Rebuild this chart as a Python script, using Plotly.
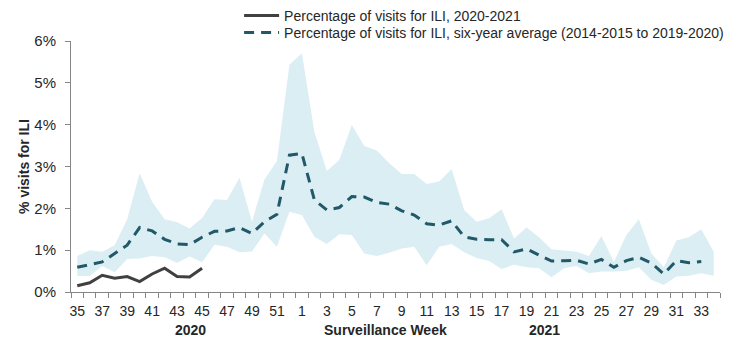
import plotly.graph_objects as go

weeks = list(range(35, 53)) + list(range(1, 35))

current = [0.15, 0.22, 0.40, 0.33, 0.37, 0.25, 0.43, 0.57, 0.37, 0.36, 0.57] + [None] * 41

average = [0.59, 0.66, 0.72, 0.92, 1.12, 1.54, 1.46, 1.26, 1.15, 1.13, 1.31, 1.45, 1.46, 1.54, 1.40, 1.68, 1.86, 3.27,
           3.31, 2.20, 1.96, 2.02, 2.28, 2.27, 2.14, 2.10, 1.94, 1.84, 1.63, 1.60, 1.70, 1.32, 1.26, 1.25, 1.25, 0.96,
           1.03, 0.88, 0.74, 0.75, 0.76, 0.67, 0.78, 0.59, 0.75, 0.83, 0.69, 0.43, 0.75, 0.70, 0.73, None]

upper = [0.86, 1.00, 0.96, 1.12, 1.74, 2.84, 2.16, 1.74, 1.67, 1.52, 1.77, 2.22, 2.20, 2.73, 1.68, 2.69, 3.13, 5.43,
         5.71, 3.83, 2.89, 3.16, 3.99, 3.49, 3.38, 3.08, 2.82, 2.82, 2.58, 2.64, 2.94, 1.96, 1.68, 1.76, 1.98, 1.28,
         1.54, 1.31, 1.02, 0.99, 0.96, 0.86, 1.34, 0.72, 1.36, 1.74, 0.92, 0.59, 1.23, 1.31, 1.50, 0.96]

lower = [0.38, 0.38, 0.62, 0.47, 0.79, 0.80, 0.86, 0.83, 0.70, 0.85, 0.71, 1.13, 1.08, 0.95, 0.97, 1.40, 1.08, 1.92,
         1.84, 1.32, 1.15, 1.38, 1.36, 0.92, 0.86, 0.94, 1.04, 1.08, 0.64, 1.08, 1.15, 0.95, 0.81, 0.74, 0.55, 0.65,
         0.59, 0.57, 0.35, 0.57, 0.62, 0.45, 0.49, 0.49, 0.51, 0.59, 0.29, 0.17, 0.37, 0.39, 0.45, 0.39]

yticks = [0, 1, 2, 3, 4, 5, 6]

idx = list(range(len(weeks)))
FONT = "Liberation Sans, Arial, sans-serif"
TXT = "#262626"
AX = "#868686"

fig = go.Figure()
fig.add_trace(go.Scatter(x=idx, y=lower, mode="lines", line=dict(width=0, color="#DBEEF4"),
                         showlegend=False, hoverinfo="skip"))
fig.add_trace(go.Scatter(x=idx, y=upper, mode="lines", line=dict(width=0, color="#DBEEF4"),
                         fill="tonexty", fillcolor="#DBEEF4", showlegend=False, hoverinfo="skip"))
fig.add_trace(go.Scatter(x=idx, y=current, mode="lines", name="Percentage of visits for ILI, 2020-2021",
                         line=dict(color="#404040", width=3), legend="legend"))
fig.add_trace(go.Scatter(x=idx, y=average, mode="lines",
                         name="Percentage of visits for ILI, six-year average (2014-2015 to 2019-2020)",
                         line=dict(color="#215968", width=3, dash="10px,7px"), legend="legend2"))

leg_common = dict(xanchor="left", yanchor="top", bgcolor="rgba(0,0,0,0)",
                  font=dict(size=14, color=TXT, family=FONT), itemwidth=35)

fig.update_layout(
    width=739, height=342,
    margin=dict(l=71, r=19, t=41, b=50, autoexpand=False),
    plot_bgcolor="white", paper_bgcolor="white",
    font=dict(family=FONT, color=TXT, size=13),
    legend=dict(x=0.259, y=1.164, **leg_common),
    legend2=dict(x=0.259, y=1.096, **leg_common),
    xaxis=dict(
        range=[-0.5, len(weeks) - 0.5],
        tickmode="array", tickvals=idx[::2], ticktext=[str(w) for w in weeks[::2]],
        ticks="", showline=True, linecolor=AX, linewidth=1, showgrid=False, zeroline=False,
        tickfont=dict(size=14, color=TXT), ticklabelstandoff=6,
        minor=dict(tickmode="linear", tick0=-0.5, dtick=1, ticks="outside", ticklen=5, tickcolor=AX, showgrid=False),
    ),
    yaxis=dict(
        range=[0, 6], tickmode="array", tickvals=yticks, ticktext=[f"{v}%" for v in yticks],
        ticks="outside", ticklen=5, tickcolor=AX, showline=True, linecolor=AX, linewidth=1,
        showgrid=False, zeroline=False, tickfont=dict(size=15, color=TXT), ticklabelstandoff=6,
        title=dict(text="<b>% visits for ILI</b>", font=dict(size=14, color=TXT), standoff=1),
    ),
    annotations=[
        dict(text="<b>2020</b>", x=9.05, y=-0.151, xref="x", yref="paper", showarrow=False,
             font=dict(size=14, color=TXT), xanchor="center", yanchor="middle"),
        dict(text="<b>Surveillance Week</b>", x=24.66, y=-0.151, xref="x", yref="paper", showarrow=False,
             font=dict(size=14, color=TXT), xanchor="center", yanchor="middle"),
        dict(text="<b>2021</b>", x=37.47, y=-0.151, xref="x", yref="paper", showarrow=False,
             font=dict(size=14, color=TXT), xanchor="center", yanchor="middle"),
    ],
)

fig.write_html("out.html")
